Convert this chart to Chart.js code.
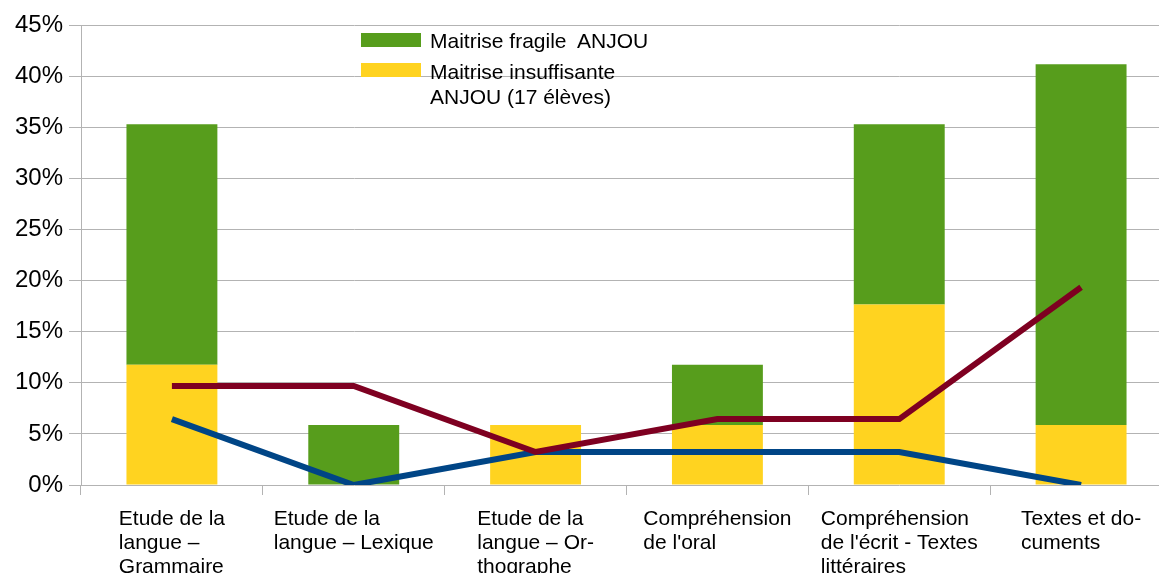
<!DOCTYPE html>
<html>
<head>
<meta charset="utf-8">
<script src="https://cdn.jsdelivr.net/npm/chart.js@4.4.1/dist/chart.umd.min.js"></script>
<style>
  html, body { margin: 0; padding: 0; background: #fff; overflow: hidden; }
  #wrap { position: relative; width: 1175px; height: 600px; }
  .leg { position: absolute; font-family: "Liberation Sans", Arial, sans-serif; font-size: 21px; color: #000; line-height: 25px; }
  .box { position: absolute; width: 60px; height: 14px; }
</style>
</head>
<body>
<div id="wrap">
  <canvas id="myChart" width="1175" height="600"></canvas>
  <div class="box" style="left:361px; top:33px; background:#579d1c"></div>
  <div class="leg" style="left:430px; top:28px">Maitrise fragile&nbsp; ANJOU</div>
  <div class="box" style="left:361px; top:63px; background:#ffd320"></div>
  <div class="leg" style="left:430px; top:59px">Maitrise insuffisante<br>ANJOU (17 élèves)</div>
</div>
<script>
// catégories (libellés sur plusieurs lignes)
const categories = [
  ['Etude de la', 'langue –', 'Grammaire'],
  ['Etude de la', 'langue – Lexique'],
  ['Etude de la', 'langue – Or-', 'thographe'],
  ['Compréhension', "de l'oral"],
  ['Compréhension', "de l'écrit - Textes", 'littéraires'],
  ['Textes et do-', 'cuments']
];

// valeurs en %
const insuffisante = [11.76, 0, 5.88, 5.88, 17.65, 5.88];
const fragile = [23.53, 5.88, 0, 5.88, 17.65, 35.29];
const ligneRouge = [9.68, 9.68, 3.23, 6.45, 6.45, 19.35];
const ligneBleue = [6.45, 0, 3.23, 3.23, 3.23, 0];

const yTicks = [0, 5, 10, 15, 20, 25, 30, 35, 40, 45];

const gridColor = '#b3b3b3';

// dessine les libellés de l'axe x, alignés à gauche dans un bloc centré
const xLabelsPlugin = {
  id: 'xLabels',
  afterDraw(chart) {
    const ctx = chart.ctx;
    const x = chart.scales.x;
    ctx.save();
    ctx.font = '21px "Liberation Sans", Arial, sans-serif';
    ctx.fillStyle = '#000';
    ctx.textBaseline = 'alphabetic';
    ctx.textAlign = 'left';
    categories.forEach((lines, i) => {
      const cx = x.getPixelForValue(i);
      const w = Math.max(...lines.map(l => ctx.measureText(l).width));
      const left = cx - w / 2;
      lines.forEach((l, j) => {
        ctx.fillText(l, left, 525 + j * 24);
      });
    });
    ctx.restore();
  }
};

const ctx = document.getElementById('myChart').getContext('2d');
new Chart(ctx, {
  type: 'bar',
  data: {
    labels: categories.map(c => c.join(' ')),
    datasets: [
      {
        type: 'line', data: ligneRouge, borderColor: '#7e0021', borderWidth: 6,
        pointRadius: 0, tension: 0, fill: false, stack: 'r', order: 0, borderCapStyle: 'butt'
      },
      {
        type: 'line', data: ligneBleue, borderColor: '#004586', borderWidth: 6,
        pointRadius: 0, tension: 0, fill: false, stack: 'b', order: 1, borderCapStyle: 'butt'
      },
      {
        label: 'Maitrise insuffisante ANJOU (17 élèves)', data: insuffisante,
        backgroundColor: '#ffd320', stack: 'bars', order: 2,
        barPercentage: 1, categoryPercentage: 0.5
      },
      {
        label: 'Maitrise fragile  ANJOU', data: fragile,
        backgroundColor: '#579d1c', stack: 'bars', order: 2,
        barPercentage: 1, categoryPercentage: 0.5
      }
    ]
  },
  options: {
    responsive: false,
    animation: false,
    layout: { padding: { top: 25, right: 3, left: 0, bottom: 0 } },
    plugins: { legend: { display: false }, tooltip: { enabled: false } },
    scales: {
      x: {
        stacked: true,
        offset: true,
        grid: { offset: true, drawOnChartArea: false, color: gridColor, tickLength: 10 },
        border: { display: false },
        ticks: { display: false },
        afterFit(s) { s.height = 115; }
      },
      y: {
        stacked: true,
        min: 0, max: 45,
        afterBuildTicks(s) { s.ticks = yTicks.map(v => ({ value: v })); },
        grid: { color: gridColor, tickLength: 12 },
        border: { color: gridColor },
        ticks: {
          padding: 6, color: '#000',
          font: { family: '"Liberation Sans", Arial, sans-serif', size: 24 },
          callback: v => v + '%'
        },
        afterFit(s) { s.width = 81; }
      }
    }
  },
  plugins: [xLabelsPlugin]
});
</script>
</body>
</html>
